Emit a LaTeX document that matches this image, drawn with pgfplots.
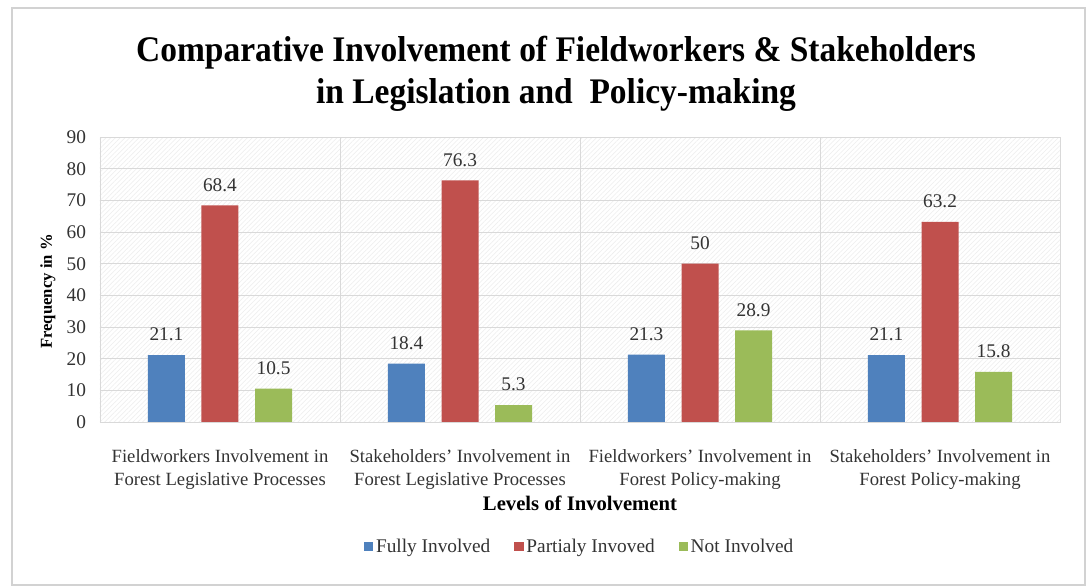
\documentclass[border=0pt]{standalone}
\usepackage{pgfplots}
\pgfplotsset{compat=1.18}
\usepackage{fontspec}
\setmainfont{Liberation Serif}
\newfontfamily\titlefont[FakeStretch=0.93]{Liberation Serif}
\usetikzlibrary{patterns.meta}
\definecolor{cblue}{HTML}{4F81BD}
\definecolor{cred}{HTML}{C0504D}
\definecolor{cgreen}{HTML}{9BBB59}
\definecolor{cgrid}{HTML}{D9D9D9}
\begin{document}
\begin{tikzpicture}
\useasboundingbox (-75pt,-124.5pt) rectangle (741.75pt,316.5pt);
\fill[white] (-75pt,-124.5pt) rectangle (741.75pt,316.5pt);
\draw[color=gray!35, line width=0.8pt] (-66pt,-122.25pt) rectangle (738.75pt,310.5pt);
\begin{axis}[
  at={(0,0)}, anchor=south west,
  scale only axis,
  width=720pt, height=213.75pt,
  xmin=-0.5, xmax=3.5, ymin=0, ymax=90,
  ybar=12.4pt, bar width=27.75pt,
  xtick={0,1,2,3},
  xticklabels={{Fieldworkers Involvement in\\Forest Legislative Processes},
               {Stakeholders' Involvement in\\Forest Legislative Processes},
               {Fieldworkers' Involvement in\\Forest Policy-making},
               {Stakeholders' Involvement in\\Forest Policy-making}},
  xticklabel style={align=center, font=\fontsize{14pt}{17.25pt}\selectfont, text=black!80, yshift=-13pt},
  minor xtick={0.5,1.5,2.5},
  xminorgrids, minor x grid style={cgrid, line width=0.6pt},
  ytick={0,10,...,90},
  ymajorgrids, major grid style={cgrid, line width=0.6pt},
  yticklabel style={font=\fontsize{14.5pt}{16pt}\selectfont, text=black!80, xshift=-7pt},
  /pgf/number format/assume math mode=true,
  tick style={draw=none},
  axis line style={cgrid},
  axis background/.style={fill=gray!4, pattern={Lines[angle=45,distance=2.5pt,line width=0.4pt]}, pattern color=gray!14},
  ylabel={\bfseries Frequency in \%},
  ylabel style={font=\fontsize{12.5pt}{14pt}\selectfont, at={(axis description cs:0,0.5)}, anchor=center, xshift=-9pt, yshift=39pt},
  xlabel={\bfseries Levels of Involvement},
  xlabel style={font=\fontsize{15.5pt}{17pt}\selectfont, at={(axis description cs:0.5,0)}, anchor=center, yshift=-61pt},
  nodes near coords,
  every node near coord/.append style={font=\fontsize{14.5pt}{16pt}\selectfont, text=black!80, yshift=7pt},
  point meta=explicit symbolic,
  legend style={at={(0.5,-0.39)}, anchor=north, draw=none, fill=none,
    legend columns=3, font=\fontsize{14.5pt}{16pt}\selectfont, text=black!80,
    /tikz/every even column/.append style={column sep=16pt}},
  legend image code/.code={\fill[#1] (0pt,-3.5pt) rectangle (7pt,3.5pt);},
]
\addplot[fill=cblue, draw=none] coordinates {(0,21.1)[21.1] (1,18.4)[18.4] (2,21.3)[21.3] (3,21.1)[21.1]};
\addplot[fill=cred, draw=none] coordinates {(0,68.4)[68.4] (1,76.3)[76.3] (2,50)[50] (3,63.2)[63.2]};
\addplot[fill=cgreen, draw=none] coordinates {(0,10.5)[10.5] (1,5.3)[5.3] (2,28.9)[28.9] (3,15.8)[15.8]};
\legend{Fully Involved, Partialy Invoved, Not Involved}
\end{axis}
\node[font=\titlefont\bfseries\fontsize{27pt}{31.5pt}\selectfont, align=center] at (342pt,261.5pt)
  {Comparative Involvement of Fieldworkers \& Stakeholders\\in Legislation and\ \ Policy-making};
\end{tikzpicture}
\end{document}
